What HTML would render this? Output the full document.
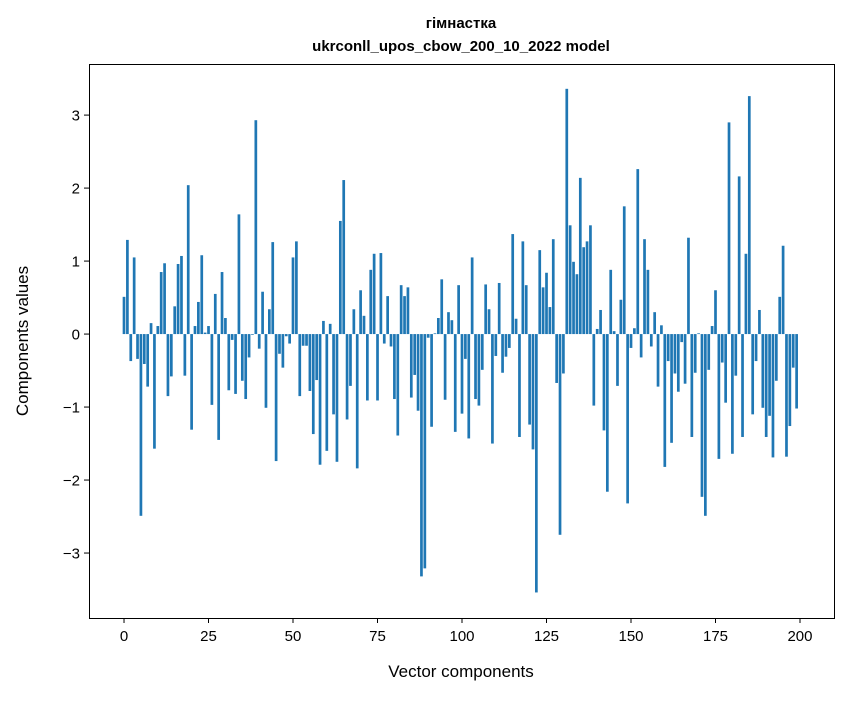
<!DOCTYPE html>
<html><head><meta charset="utf-8"><style>
body{margin:0;background:#fff;}
svg text{font-family:"Liberation Sans","DejaVu Sans",sans-serif;fill:#000;}
</style></head><body>
<svg id="chart" width="847" height="696" xmlns="http://www.w3.org/2000/svg">
<rect width="847" height="696" fill="#fff"/>
<text x="461" y="28" text-anchor="middle" font-size="15" font-weight="bold">гімнастка</text>
<text x="461" y="51" text-anchor="middle" font-size="15" font-weight="bold">ukrconll_upos_cbow_200_10_2022 model</text>
<g id="bars"></g>
<g id="xticks"></g>
<g id="yticks"></g>
<rect x="89.5" y="64.5" width="745" height="554" fill="none" stroke="#000" stroke-width="1"/>
<text x="461" y="677" text-anchor="middle" font-size="17">Vector components</text>
<text transform="translate(28,341) rotate(-90)" text-anchor="middle" font-size="17">Components values</text>
</svg>
<script>
const values = [0.51,1.29,-0.37,1.05,-0.34,-2.49,-0.41,-0.72,0.15,-1.57,
0.11,0.85,0.97,-0.85,-0.58,0.38,0.96,1.07,-0.57,2.04,
-1.31,0.11,0.44,1.08,0.02,0.11,-0.97,0.55,-1.45,0.85,
0.22,-0.77,-0.08,-0.82,1.64,-0.64,-0.89,-0.32,-0.01,2.93,
-0.2,0.58,-1.01,0.34,1.26,-1.74,-0.27,-0.46,-0.03,-0.13,
1.05,1.27,-0.85,-0.16,-0.16,-0.78,-1.37,-0.63,-1.79,0.18,
-1.6,0.14,-1.1,-1.75,1.55,2.11,-1.17,-0.71,0.34,-1.84,
0.6,0.25,-0.91,0.88,1.1,-0.91,1.11,-0.13,0.52,-0.17,
-0.89,-1.39,0.67,0.52,0.64,-0.87,-0.56,-1.05,-3.32,-3.21,
-0.05,-1.27,0.01,0.22,0.75,-0.9,0.3,0.19,-1.34,0.67,
-1.09,-0.34,-1.43,1.05,-0.89,-0.98,-0.49,0.68,0.34,-1.5,
-0.3,0.7,-0.53,-0.31,-0.19,1.37,0.21,-1.41,1.27,0.67,
-1.24,-1.58,-3.54,1.15,0.64,0.84,0.37,1.3,-0.67,-2.75,
-0.54,3.36,1.49,0.99,0.82,2.14,1.19,1.27,1.49,-0.98,
0.07,0.33,-1.32,-2.16,0.88,0.04,-0.71,0.47,1.75,-2.32,
-0.19,0.08,2.26,-0.32,1.3,0.88,-0.17,0.3,-0.72,0.12,
-1.82,-0.37,-1.49,-0.54,-0.79,-0.11,-0.68,1.32,-1.41,-0.53,
0.01,-2.23,-2.49,-0.49,0.11,0.6,-1.71,-0.39,-0.94,2.9,
-1.64,-0.57,2.16,-1.41,1.1,3.26,-1.1,-0.37,0.33,-1.01,
-1.41,-1.12,-1.69,-0.64,0.51,1.21,-1.68,-1.26,-0.46,-1.02];
const xTicks = [0,25,50,75,100,125,150,175,200];
const yTicks = [-3,-2,-1,0,1,2,3];

const NS = "http://www.w3.org/2000/svg";
const X0 = 89, X1 = 834, Y0 = 64, Y1 = 618;
const xMin = -10.36, xMax = 210.06, yMin = -3.89, yMax = 3.70;
function xs(v){ return X0 + (v - xMin) / (xMax - xMin) * (X1 - X0); }
function ys(v){ return Y1 - (v - yMin) / (yMax - yMin) * (Y1 - Y0); }

const bars = document.getElementById('bars');
values.forEach((v, i) => {
  const r = document.createElementNS(NS, 'rect');
  const xl = xs(i - 0.4), xr = xs(i + 0.4);
  const ya = ys(Math.max(v, 0)), yb = ys(Math.min(v, 0));
  r.setAttribute('x', xl);
  r.setAttribute('width', xr - xl);
  r.setAttribute('y', ya);
  r.setAttribute('height', Math.max(yb - ya, 0.01));
  r.setAttribute('fill', '#1f77b4');
  
  
  bars.appendChild(r);
});

const xg = document.getElementById('xticks');
xTicks.forEach(t => {
  const x = xs(t);
  const l = document.createElementNS(NS, 'line');
  l.setAttribute('x1', x); l.setAttribute('x2', x);
  l.setAttribute('y1', Y1); l.setAttribute('y2', Y1 + 5);
  l.setAttribute('stroke', '#000');
  
  
  xg.appendChild(l);
  const tx = document.createElementNS(NS, 'text');
  tx.setAttribute('x', x); tx.setAttribute('y', Y1 + 23);
  tx.setAttribute('text-anchor', 'middle');
  tx.setAttribute('font-size', '15');
  tx.textContent = t;
  
  
  xg.appendChild(tx);
});
const yg = document.getElementById('yticks');
yTicks.forEach(t => {
  const y = ys(t);
  const l = document.createElementNS(NS, 'line');
  l.setAttribute('x1', X0 - 5); l.setAttribute('x2', X0);
  l.setAttribute('y1', y); l.setAttribute('y2', y);
  l.setAttribute('stroke', '#000');
  
  
  yg.appendChild(l);
  const tx = document.createElementNS(NS, 'text');
  tx.setAttribute('x', X0 - 9); tx.setAttribute('y', y + 5.5);
  tx.setAttribute('text-anchor', 'end');
  tx.setAttribute('font-size', '15');
  tx.textContent = t < 0 ? '\u2212' + Math.abs(t) : String(t);
  
  
  yg.appendChild(tx);
});
</script>
</body></html>
